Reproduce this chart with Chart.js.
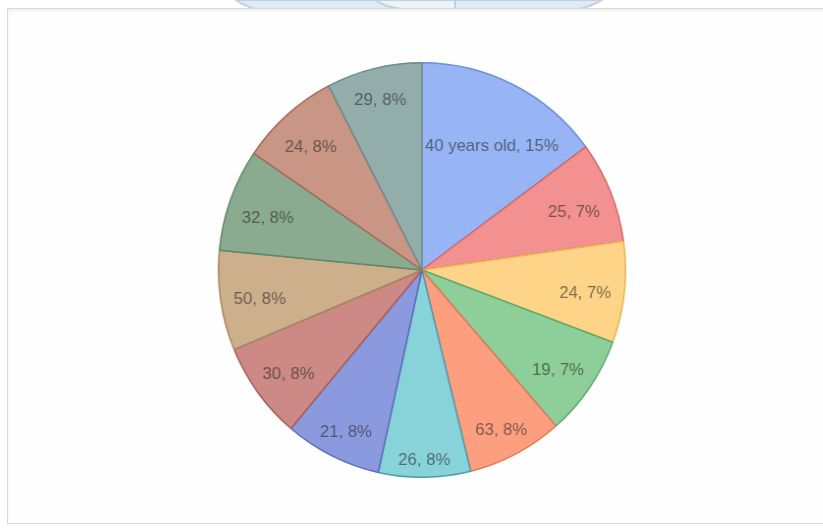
<!DOCTYPE html>
<html>
<head>
<meta charset="utf-8">
<script src="https://cdn.jsdelivr.net/npm/chart.js@4"></script>
<style>
  body { margin: 0; background: #ffffff; width: 823px; height: 530px; overflow: hidden; position: relative; font-family: "Liberation Sans", Arial, sans-serif; }
  #mark { position: absolute; left: 0; top: 0; }
  #panel { position: absolute; left: 7px; top: 8px; width: 830px; height: 514px; border: 1px solid #d9d9d9; background: #fefefe; box-shadow: inset 0 2px 3px rgba(0,0,0,0.06); }
  #wrap { position: absolute; left: 214px; top: 62px; width: 416px; height: 416px; transform: scaleX(0.982); transform-origin: 50% 50%; }
</style>
</head>
<body>
<svg id="mark" width="823" height="10">
  <path d="M236,0 Q244,6 256,9 L580,9 Q594,5 602,0 Z" fill="#dcebf7" stroke="#c5cfd8" stroke-width="2"/>
  <path d="M376,0 Q384,7 402,9 L455,9 L455,0 Z" fill="#e9f3fa" stroke="#c5cfd8" stroke-width="2"/>
</svg>
<div id="panel"></div>
<div id="wrap"><canvas id="pie"></canvas></div>
<script>
// données
const categories = ['40 years old', '25', '24', '19', '63', '26', '21', '30', '50', '32', '24', '29']
const shares = [14.9, 7.9, 7.9, 7.9, 7.6, 7.3, 7.7, 7.6, 7.8, 8.0, 7.9, 7.6]
const percentLabels = ['15%', '7%', '7%', '7%', '8%', '8%', '8%', '8%', '8%', '8%', '8%', '8%']

const fillColors = ['#97b4f4', '#f29190', '#fed488', '#8ecf99', '#fd9f7f', '#88d3da', '#8b9ade', '#cc8985', '#ceaf8c', '#8aab8f', '#c99585', '#93adab']
const edgeColors = ['#6d8fd6', '#d86767', '#ecb34f', '#5daa6c', '#e07953', '#4d9cab', '#5a6bbd', '#a85d5a', '#a88a5f', '#5e8867', '#a56a5a', '#6a8b8c']

// étiquettes "catégorie, pourcentage" placées près du bord
const sliceLabels = {
    id: 'sliceLabels',
    afterDatasetsDraw(chart) {
        const ctx = chart.ctx
        const arcs = chart.getDatasetMeta(0).data
        ctx.save()
        ctx.font = '17px "Liberation Sans", Arial, sans-serif'
        ctx.fillStyle = 'rgba(45,45,45,0.62)'
        ctx.textAlign = 'center'
        ctx.textBaseline = 'middle'
        arcs.forEach((arc, i) => {
            const p = arc.getProps(['x', 'y', 'startAngle', 'endAngle', 'outerRadius'], true)
            const mid = (p.startAngle + p.endAngle) / 2
            const ux = Math.cos(mid)
            const uy = Math.sin(mid)
            const text = `${categories[i]}, ${percentLabels[i]}`
            const hw = ctx.measureText(text).width / 2
            const hh = 7
            const lim = p.outerRadius - 13
            const b = Math.abs(ux) * hw + Math.abs(uy) * hh
            const c = hw * hw + hh * hh - lim * lim
            const r = -b + Math.sqrt(b * b - c)
            let x = ux * r
            let y = uy * r
            // en haut à droite : ne pas couper le rayon vertical du centre
            if (ux > 0 && uy < 0 && x - hw < 3) {
                x = hw + 3
                const cx = x + hw
                y = -(Math.sqrt(lim * lim - cx * cx) - hh)
            }
            ctx.fillText(text, p.x + x, p.y + y + 5)
        })
        ctx.restore()
    }
}

const ctx = document.getElementById('pie').getContext('2d')
const pieChart = new Chart(ctx, {
    type: 'pie',
    data: {
        labels: categories,
        datasets: [{
            data: shares,
            backgroundColor: fillColors,
            borderColor: edgeColors,
            borderWidth: 1.5
        }]
    },
    options: {
        responsive: true,
        maintainAspectRatio: false,
        animation: false,
        layout: { padding: 0 },
        plugins: {
            legend: { display: false },
            tooltip: { enabled: false }
        }
    },
    plugins: [sliceLabels]
})
</script>
</body>
</html>
